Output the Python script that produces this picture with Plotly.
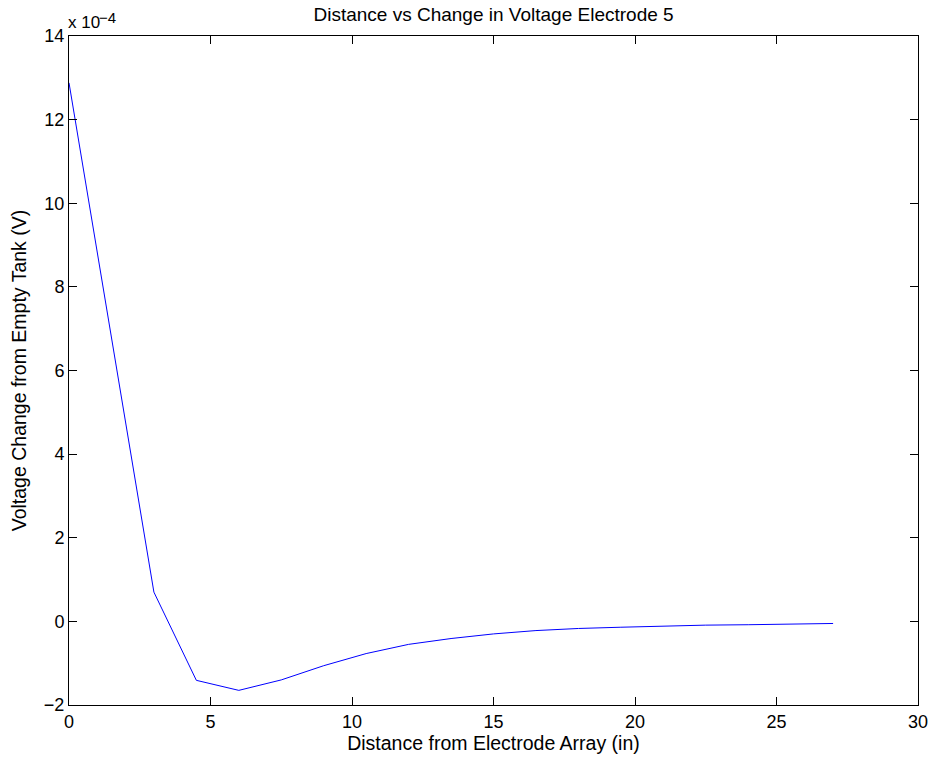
import plotly.graph_objects as go

distance = [0, 3, 4.5, 6, 7.5, 9, 10.5, 12, 13.5, 15, 16.5, 18, 19.5, 21, 22.5, 24, 25.5, 27]
voltage_e4 = [12.88, 0.70, -1.41, -1.65, -1.40, -1.06, -0.77, -0.55, -0.41, -0.30, -0.22, -0.17,
              -0.14, -0.11, -0.09, -0.08, -0.065, -0.05]

x_ticks = [0, 5, 10, 15, 20, 25, 30]
y_ticks = [-2, 0, 2, 4, 6, 8, 10, 12, 14]

font = "Liberation Sans, Arial, Helvetica, sans-serif"

fig = go.Figure()
fig.add_trace(go.Scatter(x=distance, y=voltage_e4, mode="lines",
                         line=dict(color="#0000ff", width=1), showlegend=False))

axis_common = dict(showgrid=False, zeroline=False, showline=True, linecolor="black",
                   linewidth=1, mirror="ticks", ticks="inside", ticklen=8,
                   tickcolor="black", tickfont=dict(size=18, color="black", family=font))

fig.update_layout(
    width=930, height=761,
    margin=dict(l=69, r=12, t=36, b=56),
    paper_bgcolor="white", plot_bgcolor="white",
    font=dict(family=font, color="black", size=18),
    title=dict(text="Distance vs Change in Voltage Electrode 5", x=0.5307, xanchor="center",
               y=0.9816, yanchor="middle", font=dict(size=19, family=font, color="black")),
    xaxis=dict(range=[0, 30], tickvals=x_ticks, automargin=False, **axis_common,
               title=dict(text="Distance from Electrode Array (in)", standoff=2,
                          font=dict(size=19.5, family=font))),
    yaxis=dict(range=[-2, 14], tickvals=y_ticks, automargin=False, **axis_common,
               title=dict(text="Voltage Change from Empty Tank (V)", standoff=12,
                          font=dict(size=19.5, family=font))),
)

fig.add_annotation(text="x 10", xref="paper", yref="paper",
                   x=-0.003, y=1.0202, xanchor="left", yanchor="middle", showarrow=False,
                   font=dict(size=17, family=font, color="black"))
fig.add_annotation(text="\u22124", xref="paper", yref="paper",
                   x=0.0335, y=1.0284, xanchor="left", yanchor="middle", showarrow=False,
                   font=dict(size=15, family=font, color="black"))

fig.write_html("out.html")
